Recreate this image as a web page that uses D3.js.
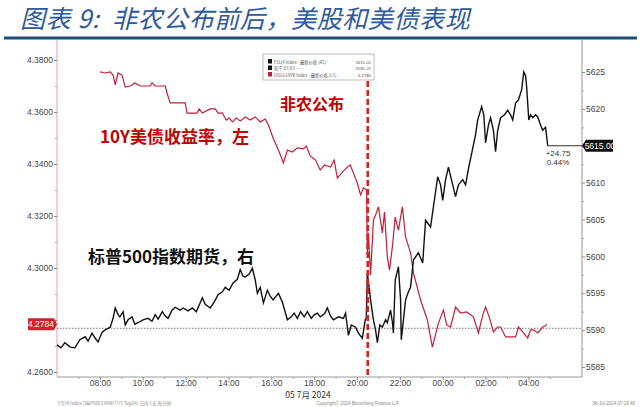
<!DOCTYPE html>
<html>
<head>
<meta charset="utf-8">
<script src="https://cdn.jsdelivr.net/npm/d3@7"></script>
<style>
  body { margin: 0; background: #fff; }
  svg { display: block; font-family: "Liberation Sans", "DejaVu Sans", sans-serif; }
</style>
</head>
<body>
<div id="chart"></div>
<script>
// time in hours counted from 00:00 on 05 Jul 2024 (values > 24 are the next day)
const yieldHours = [8.0, 8.24, 8.48, 8.62, 8.71, 8.85, 9.04, 9.18, 9.41, 9.64, 9.88, 10.35, 10.44, 10.58, 11.05, 11.14, 11.28, 11.98,
  12.07, 12.54, 12.64, 12.78, 13.15, 13.38, 13.52, 13.71, 13.9, 14.04, 14.18, 14.36, 14.55, 14.79, 15.02, 15.25, 15.49, 15.72, 15.86,
  16.09, 16.33, 16.56, 16.75, 16.99, 17.21, 17.5, 17.64, 17.82, 18.06, 18.29, 18.48, 18.76, 18.94, 19.08, 19.32, 19.55, 19.69, 19.83,
  20.02, 20.16, 20.3, 20.45, 20.49, 20.53, 20.63, 20.77, 20.86, 21.0, 21.19, 21.28, 21.42, 21.51, 21.65, 21.79, 21.93, 22.12, 22.26,
  22.5, 22.64, 22.96, 23.29, 23.52, 23.8, 24.04, 24.18, 24.36, 24.6, 24.83, 25.11, 25.44, 25.67, 25.86, 26.0, 26.19, 26.37, 26.56,
  26.7, 26.93, 27.17, 27.4, 27.54, 27.73, 27.96, 28.1, 28.24, 28.43, 28.66, 28.8, 28.85];
const yieldValues = [4.3754, 4.3750, 4.3754, 4.3742, 4.3704, 4.3750, 4.3742, 4.3696, 4.3700, 4.3712, 4.3700, 4.3700, 4.3712, 4.3700,
  4.3700, 4.3673, 4.3635, 4.3635, 4.3596, 4.3596, 4.3612, 4.3596, 4.3612, 4.3612, 4.3596, 4.3596, 4.3569, 4.3577, 4.3562, 4.3577,
  4.3565, 4.3581, 4.3569, 4.3581, 4.3562, 4.3573, 4.3550, 4.3500, 4.3454, 4.3404, 4.3454, 4.3446, 4.3462, 4.3458, 4.3469, 4.3431,
  4.3415, 4.3377, 4.3396, 4.3388, 4.3415, 4.3346, 4.3369, 4.3388, 4.3396, 4.3365, 4.3327, 4.3281, 4.3308, 4.3300, 4.3050, 4.3135,
  4.2973, 4.3185, 4.3204, 4.3235, 4.3135, 4.3215, 4.3042, 4.2992, 4.3081, 4.3196, 4.3146, 4.3235, 4.3119, 4.3058, 4.2981, 4.2877,
  4.2800, 4.2696, 4.2788, 4.2838, 4.2781, 4.2773, 4.2850, 4.2827, 4.2831, 4.2812, 4.2750, 4.2819, 4.2850, 4.2808, 4.2754, 4.2773,
  4.2773, 4.2735, 4.2735, 4.2735, 4.2773, 4.2754, 4.2731, 4.2762, 4.2762, 4.2750, 4.2773, 4.2778, 4.2784];

const spxHours = [6.0, 6.19, 6.37, 6.61, 6.84, 7.07, 7.31, 7.45, 7.64, 7.78, 7.92, 8.1, 8.24, 8.48, 8.62, 8.71, 8.85, 8.94, 9.08, 9.18,
  9.32, 9.5, 9.64, 9.79, 10.02, 10.25, 10.44, 10.58, 10.72, 10.91, 11.05, 11.19, 11.37, 11.51, 11.75, 11.89, 12.12, 12.31, 12.5, 12.78,
  12.92, 13.15, 13.34, 13.52, 13.71, 13.85, 14.04, 14.22, 14.41, 14.55, 14.69, 14.79, 14.97, 15.11, 15.25, 15.35, 15.49, 15.63, 15.81,
  15.95, 16.09, 16.33, 16.51, 16.75, 16.93, 17.07, 17.21, 17.36, 17.54, 17.68, 17.87, 18.01, 18.15, 18.29, 18.48, 18.62, 18.76, 18.9,
  19.13, 19.36, 19.46, 19.6, 19.74, 19.93, 20.07, 20.25, 20.39, 20.44, 20.49, 20.58, 20.63, 20.77, 20.86, 20.95, 21.07, 21.19, 21.33,
  21.42, 21.56, 21.65, 21.7, 21.79, 21.93, 22.03, 22.07, 22.26, 22.4, 22.5, 22.64, 22.87, 23.06, 23.2, 23.43, 23.57, 23.76, 23.9, 24.0,
  24.13, 24.27, 24.46, 24.6, 24.74, 24.93, 25.07, 25.21, 25.39, 25.53, 25.63, 25.81, 25.91, 26.0, 26.14, 26.23, 26.37, 26.47, 26.56,
  26.7, 26.89, 27.03, 27.17, 27.26, 27.4, 27.54, 27.68, 27.78, 27.87, 27.92, 28.01, 28.1, 28.2, 28.33, 28.43, 28.57, 28.66, 28.8, 28.9];
const spxValues = [5588.0, 5587.6, 5588.3, 5587.7, 5587.6, 5588.7, 5589.1, 5588.5, 5589.6, 5588.9, 5588.4, 5589.7, 5590.0, 5590.4,
  5591.6, 5593.0, 5592.1, 5591.8, 5592.5, 5590.7, 5591.4, 5591.8, 5590.8, 5591.0, 5591.4, 5591.6, 5591.2, 5592.1, 5591.5, 5592.5,
  5591.9, 5591.6, 5592.7, 5593.1, 5592.7, 5593.0, 5592.6, 5593.0, 5592.5, 5594.4, 5593.5, 5593.0, 5593.8, 5594.8, 5595.2, 5595.8,
  5595.4, 5596.4, 5596.9, 5598.2, 5597.3, 5597.2, 5597.6, 5598.4, 5596.8, 5595.0, 5595.8, 5593.7, 5595.4, 5594.6, 5594.1, 5595.0,
  5593.8, 5591.4, 5591.8, 5592.3, 5591.6, 5592.5, 5591.8, 5592.5, 5591.6, 5592.1, 5592.3, 5591.8, 5592.2, 5593.0, 5591.9, 5591.4,
  5591.8, 5591.6, 5592.3, 5589.3, 5590.7, 5590.4, 5589.6, 5588.9, 5591.4, 5591.6, 5597.7, 5595.4, 5594.1, 5591.4, 5590.0, 5588.3,
  5590.7, 5590.4, 5591.4, 5591.0, 5592.7, 5591.1, 5589.6, 5596.8, 5598.6, 5594.1, 5588.7, 5594.1, 5595.2, 5595.8, 5599.5, 5600.5,
  5599.1, 5604.9, 5604.0, 5606.7, 5610.8, 5609.7, 5607.6, 5610.4, 5612.1, 5609.7, 5608.1, 5609.7, 5610.4, 5609.7, 5612.1, 5614.4,
  5616.5, 5618.5, 5620.3, 5619.2, 5615.4, 5617.8, 5618.8, 5617.1, 5614.2, 5617.1, 5618.8, 5619.2, 5619.8, 5619.2, 5618.5, 5620.8,
  5621.2, 5622.6, 5625.0, 5624.5, 5623.0, 5618.5, 5619.2, 5618.8, 5619.2, 5618.9, 5617.8, 5617.1, 5617.5, 5615.0];

const spxPrevClose = 5590.25;
const releaseHour = 20.5;
const xTickHours = [8, 10, 12, 14, 16, 18, 20, 22, 24, 26, 28];
const xTickLabels = ["08:00", "10:00", "12:00", "14:00", "16:00", "18:00", "20:00", "22:00", "00:00", "02:00", "04:00"];
const leftTicks = [4.26, 4.28, 4.30, 4.32, 4.34, 4.36, 4.38];
const rightTicks = [5585, 5590, 5595, 5600, 5605, 5610, 5615, 5620, 5625];

const W = 640, H = 407;
const plotL = 57, plotR = 582, plotT = 40, plotB = 377;
const day0 = new Date(2024, 6, 5, 0, 0);
const toDate = h => d3.timeMinute.offset(day0, Math.round(h * 60));

const x = d3.scaleTime().domain([toDate(6), toDate(30.5)]).range([plotL, plotR]);
const yL = d3.scaleLinear().domain([4.26, 4.38]).range([372, 60]);
const yR = d3.scaleLinear().domain([5585, 5625]).range([367, 72]);

const svg = d3.select("#chart").append("svg").attr("width", W).attr("height", H);
const cjk = "'Noto Sans CJK SC', sans-serif";

const spxData = spxHours.map((h, i) => [toDate(h), spxValues[i]]);
const yieldData = yieldHours.map((h, i) => [toDate(h), yieldValues[i]]);
const lastSpx = spxData[spxData.length - 1];
const lastYield = yieldValues[yieldValues.length - 1];

// title
svg.append("text").attr("x", 20).attr("y", 28)
  .attr("font-family", cjk).attr("font-size", 25).attr("letter-spacing", 0.6)
  .attr("font-style", "italic").attr("fill", "#2c5a9a").style("white-space", "pre")
  .text("图表 9:  非农公布前后，美股和美债表现");
svg.append("line").attr("x1", 4).attr("x2", 637).attr("y1", 38).attr("y2", 38)
  .attr("stroke", "#1f4e79").attr("stroke-width", 3);

// frame
svg.append("line").attr("x1", plotL).attr("x2", plotL).attr("y1", plotT).attr("y2", plotB).attr("stroke", "#e0a0a8");
svg.append("line").attr("x1", plotR).attr("x2", plotR).attr("y1", plotT).attr("y2", plotB).attr("stroke", "#999");
svg.append("line").attr("x1", plotL).attr("x2", plotR).attr("y1", plotB).attr("y2", plotB).attr("stroke", "#999");

// left axis (label under the last-value tag is left out)
const gL = svg.append("g").attr("transform", `translate(${plotL},0)`)
  .call(d3.axisLeft(yL).tickValues(leftTicks)
    .tickFormat(d => Math.abs(yL(d) - yL(lastYield)) < 8 ? "" : d3.format(".4f")(d)).tickSize(3));
gL.select(".domain").remove();
gL.selectAll("text").attr("fill", "#444").attr("font-size", 8.5).attr("x", -4);
gL.selectAll("line").attr("stroke", "#888");
svg.append("g").attr("transform", `translate(${plotL},0)`)
  .call(d3.axisLeft(yL).tickValues(d3.range(4.27, 4.38, 0.02)).tickFormat("").tickSize(2))
  .call(g => g.select(".domain").remove()).selectAll("line").attr("stroke", "#aaa");

// right axis
const gR = svg.append("g").attr("transform", `translate(${plotR},0)`)
  .call(d3.axisRight(yR).tickValues(rightTicks)
    .tickFormat(d => Math.abs(yR(d) - yR(lastSpx[1])) < 8 ? "" : d3.format("d")(d)).tickSize(3));
gR.select(".domain").remove();
gR.selectAll("text").attr("fill", "#444").attr("font-size", 8.5).attr("x", 4);
gR.selectAll("line").attr("stroke", "#888");
svg.append("g").attr("transform", `translate(${plotR},0)`)
  .call(d3.axisRight(yR).tickValues(d3.range(5587.5, 5627, 5)).tickFormat("").tickSize(2))
  .call(g => g.select(".domain").remove()).selectAll("line").attr("stroke", "#aaa");

// bottom axis
const gB = svg.append("g").attr("transform", `translate(0,${plotB})`)
  .call(d3.axisBottom(x).tickValues(xTickHours.map(toDate)).tickFormat((d, i) => xTickLabels[i]).tickSize(3));
gB.select(".domain").remove();
gB.selectAll("text").attr("fill", "#444").attr("font-size", 8.5).attr("y", 3).attr("dy", "0.71em");
gB.selectAll("line").attr("stroke", "#888");
svg.append("g").attr("transform", `translate(0,${plotB})`)
  .call(d3.axisBottom(x).tickValues(d3.range(7, 30, 2).map(toDate)).tickFormat("").tickSize(2))
  .call(g => g.select(".domain").remove()).selectAll("line").attr("stroke", "#aaa");
svg.append("text").attr("x", 308).attr("y", 397.5).attr("text-anchor", "middle")
  .attr("font-size", 8.5).attr("fill", "#333")
  .attr("font-family", cjk).text("05 7月 2024");

// previous close reference
svg.append("line").attr("x1", plotL).attr("x2", plotR)
  .attr("y1", yR(spxPrevClose)).attr("y2", yR(spxPrevClose))
  .attr("stroke", "#555").attr("stroke-dasharray", "1.5,1.5").attr("stroke-width", 0.8);

// series
svg.append("path").datum(yieldData)
  .attr("fill", "none").attr("stroke", "#c41e3a").attr("stroke-width", 1.2)
  .attr("d", d3.line().x(d => x(d[0])).y(d => yL(d[1])));

svg.append("path").datum(spxData)
  .attr("fill", "none").attr("stroke", "#111").attr("stroke-width", 1.4)
  .attr("d", d3.line().x(d => x(d[0])).y(d => yR(d[1])));

// last spx value extended to the right axis
const ry = yR(lastSpx[1]);
svg.append("line").attr("x1", x(lastSpx[0])).attr("x2", plotR)
  .attr("y1", ry).attr("y2", ry).attr("stroke", "#333").attr("stroke-width", 1);
svg.append("text").attr("x", 558).attr("y", ry + 10).attr("text-anchor", "middle")
  .attr("font-size", 8).attr("fill", "#333").text("+" + d3.format(".2f")(lastSpx[1] - spxPrevClose));
svg.append("text").attr("x", 558).attr("y", ry + 19).attr("text-anchor", "middle")
  .attr("font-size", 8).attr("fill", "#333").text(d3.format(".2f")((lastSpx[1] - spxPrevClose) / spxPrevClose * 100) + "%");

// right value tag
svg.append("path").attr("d", `M${plotR},${ry} L${plotR + 4},${ry - 6} L${plotR + 31},${ry - 6} L${plotR + 31},${ry + 6} L${plotR + 4},${ry + 6} Z`)
  .attr("fill", "#111");
svg.append("text").attr("x", plotR + 18).attr("y", ry + 3).attr("text-anchor", "middle")
  .attr("font-size", 8.5).attr("fill", "#fff").text(d3.format(".2f")(lastSpx[1]));

// left value tag
const ly = yL(lastYield);
svg.append("path").attr("d", `M${plotL},${ly} L${plotL - 3},${ly - 6} L${plotL - 29},${ly - 6} L${plotL - 29},${ly + 6} L${plotL - 3},${ly + 6} Z`)
  .attr("fill", "#d2222d");
svg.append("text").attr("x", plotL - 16).attr("y", ly + 3).attr("text-anchor", "middle")
  .attr("font-size", 8.5).attr("fill", "#fff").text(d3.format(".4f")(lastYield));

// release marker
svg.append("line").attr("x1", x(toDate(releaseHour))).attr("x2", x(toDate(releaseHour)))
  .attr("y1", 72).attr("y2", plotB)
  .attr("stroke", "#e0201f").attr("stroke-width", 2.6).attr("stroke-dasharray", "6,3");

// legend box
const lg = svg.append("g").attr("transform", "translate(263,54)");
lg.append("rect").attr("width", 111).attr("height", 26).attr("fill", "#fff").attr("fill-opacity", 0.9)
  .attr("stroke", "#aaa").attr("stroke-width", 0.8);
const legRows = [
  ["#111", "ESU4 Index - 最新价格 (R1)", "5615.00"],
  ["#111", "和千 07/03 -----", "5590.25"],
  ["#c41e3a", "USGG10YR Index - 最新价格 (L1)", "4.2784"]
];
legRows.forEach((r, i) => {
  lg.append("rect").attr("x", 5).attr("y", 5 + i * 6.5).attr("width", 4).attr("height", 4.5).attr("fill", r[0]);
  lg.append("text").attr("x", 11).attr("y", 9.5 + i * 6.5).attr("font-size", 4.3).attr("fill", "#555")
    .attr("font-family", cjk).text(r[1]);
  lg.append("text").attr("x", 108).attr("y", 9.5 + i * 6.5).attr("font-size", 4.3).attr("fill", "#555")
    .attr("text-anchor", "end").text(r[2]);
});

// annotations
svg.append("text").attr("x", 280).attr("y", 110).attr("font-family", cjk).attr("font-size", 16)
  .attr("font-weight", "bold").attr("fill", "#c00000").text("非农公布");
svg.append("text").attr("x", 100).attr("y", 143).attr("font-family", cjk).attr("font-size", 17)
  .attr("font-weight", "bold").attr("fill", "#c00000").text("10Y美债收益率，左");
svg.append("text").attr("x", 88).attr("y", 263).attr("font-family", cjk).attr("font-size", 17)
  .attr("font-weight", "bold").attr("fill", "#111").text("标普500指数期货，右");

// footer
svg.append("text").attr("x", 58).attr("y", 405).attr("font-size", 4.5).attr("fill", "#888")
  .attr("font-family", cjk).text("ESU4 Index (S&P500 EMINI FUT Sep24) 日内 1天 每分钟");
svg.append("text").attr("x", 358).attr("y", 405).attr("font-size", 4.5).attr("fill", "#888")
  .attr("text-anchor", "middle").text("Copyright© 2024 Bloomberg Finance L.P.");
svg.append("text").attr("x", 635).attr("y", 405).attr("font-size", 4.5).attr("fill", "#888")
  .attr("text-anchor", "end").text("06-Jul-2024 07:19:46");
</script>
</body>
</html>
